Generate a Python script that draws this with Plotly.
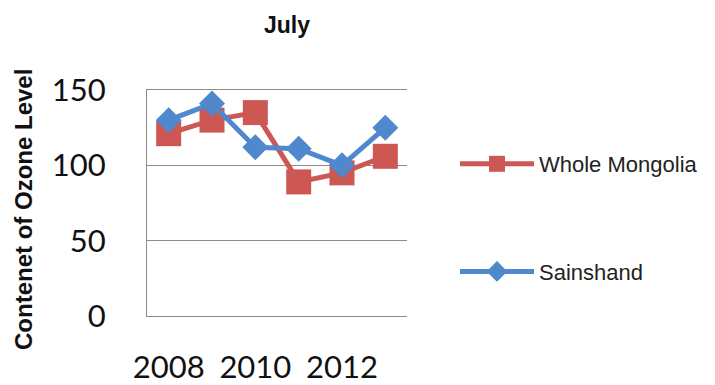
import plotly.graph_objects as go

years = [2008, 2009, 2010, 2011, 2012, 2013]
whole_mongolia = [121, 130, 135, 89, 95, 106]
sainshand = [130, 141, 112, 111, 100, 125]
y_ticks = [0, 50, 100, 150]
x_ticks = [2008, 2010, 2012]

RED = "#CD5753"
BLUE = "#4F88CC"

fig = go.Figure()
fig.add_trace(go.Scatter(
    x=years, y=whole_mongolia, name="Whole Mongolia", mode="lines+markers",
    line=dict(color=RED, width=5),
    marker=dict(symbol="square", size=25, color=RED),
    legendgroup="a",
))
fig.add_trace(go.Scatter(
    x=years, y=sainshand, name="Sainshand", mode="lines+markers",
    line=dict(color=BLUE, width=5),
    marker=dict(symbol="diamond", size=20, color=BLUE),
    legendgroup="b",
))

L, R, T, B = 147, 308, 90, 69
fig.update_layout(
    width=715, height=385, autosize=False,
    margin=dict(l=L, r=R, t=T, b=B, pad=0),
    paper_bgcolor="white", plot_bgcolor="white",
    font=dict(family="Liberation Sans, Arial, sans-serif", color="#1a1a1a"),
    title=dict(text="<b>July</b>", x=287/715, xref="container", xanchor="center",
               y=1 - 25/385, yref="container", yanchor="middle",
               font=dict(size=23, color="#111")),
    showlegend=True,
    legend=dict(
        x=455/715, xref="container", xanchor="left",
        y=1 - 143/385, yref="container", yanchor="top",
        font=dict(size=22, color="#222"),
        tracegroupgap=76, itemwidth=74,
        bgcolor="rgba(0,0,0,0)",
    ),
)
fig.update_xaxes(
    range=[2007.5, 2013.5], tickmode="array", tickvals=x_ticks,
    ticktext=[str(v) for v in x_ticks],
    showgrid=False, zeroline=False, automargin=False,
    showline=True, linecolor="#8c8c8c", linewidth=1, mirror=True,
    ticks="", ticklabelstandoff=24,
    tickfont=dict(family="Lato, Open Sans, sans-serif", size=31, color="#111"),
)
fig.update_yaxes(
    range=[0, 150], tickmode="array", tickvals=y_ticks,
    showgrid=True, gridcolor="#8c8c8c", gridwidth=1, zeroline=False,
    automargin=False,
    showline=True, linecolor="#8c8c8c", linewidth=1,
    ticks="", ticklabelstandoff=34,
    tickfont=dict(family="Lato, Open Sans, sans-serif", size=31, color="#111"),
)
fig.add_annotation(
    text="<b>Contenet of Ozone Level</b>", textangle=-90,
    xref="paper", yref="paper",
    x=(23 - L) / (715 - L - R), y=(385 - B - 210) / (385 - T - B),
    xanchor="center", yanchor="middle", showarrow=False,
    font=dict(size=24, color="#111", family="Liberation Sans, Arial, sans-serif"),
)

fig.write_html("out.html", config={"displayModeBar": False},
               post_script="document.body.style.margin='0';")
